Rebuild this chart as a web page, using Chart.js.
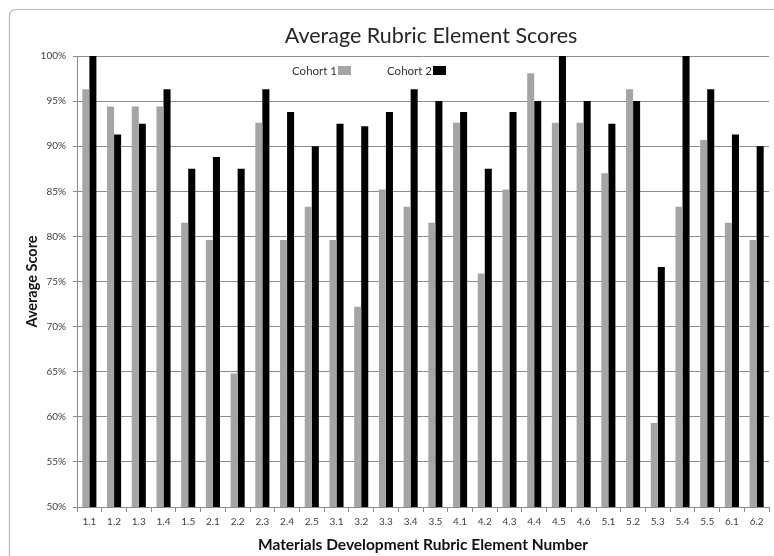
<!DOCTYPE html>
<html>
<head>
<meta charset="utf-8">
<title>Average Rubric Element Scores</title>
<script src="https://cdn.jsdelivr.net/npm/chart.js@4/dist/chart.umd.min.js"></script>
<style>
  html, body { margin: 0; padding: 0; background: #ffffff; }
  canvas { display: block; }
</style>
</head>
<body>
<canvas id="chart" width="774" height="556"></canvas>
<script>
// Rubric element numbers along the x axis
const categories = ['1.1', '1.2', '1.3', '1.4', '1.5', '2.1', '2.2', '2.3', '2.4', '2.5',
  '3.1', '3.2', '3.3', '3.4', '3.5', '4.1', '4.2', '4.3', '4.4', '4.5', '4.6',
  '5.1', '5.2', '5.3', '5.4', '5.5', '6.1', '6.2'];

// Average score (%) per element for each cohort
const cohort1 = [96.3, 94.4, 94.4, 94.4, 81.5, 79.6, 64.8, 92.6, 79.6, 83.3,
  79.6, 72.2, 85.2, 83.3, 81.5, 92.6, 75.9, 85.2, 98.1, 92.6, 92.6,
  87.0, 96.3, 59.3, 83.3, 90.7, 81.5, 79.6];
const cohort2 = [100, 91.3, 92.5, 96.3, 87.5, 88.8, 87.5, 96.3, 93.8, 90.0,
  92.5, 92.2, 93.8, 96.3, 95.0, 93.8, 87.5, 93.8, 95.0, 100, 95.0,
  92.5, 95.0, 76.6, 100, 96.3, 91.3, 90.0];

const seriesNames = ['Cohort 1', 'Cohort 2'];
const chartTitle = 'Average Rubric Element Scores';

const GRAY = '#a5a5a5';
const BLACK = '#000000';
const GRID = '#8c8c8c';
const FONT = 'Lato, "Open Sans", sans-serif';

// Rounded frame around the whole chart
const framePlugin = {
  id: 'frame',
  beforeDraw(chart) {
    const ctx = chart.ctx;
    ctx.save();
    ctx.strokeStyle = '#b8b8b8';
    ctx.lineWidth = 1.2;
    ctx.beginPath();
    ctx.roundRect(9.5, 9.5, 800, 600, 6);
    ctx.stroke();
    ctx.restore();
  }
};

// Chart title and the text-then-swatch legend inside the plot
const headerPlugin = {
  id: 'header',
  afterDraw(chart) {
    const ctx = chart.ctx;
    ctx.save();
    ctx.fillStyle = '#262626';
    ctx.font = '21.5px ' + FONT;
    ctx.textAlign = 'center';
    ctx.textBaseline = 'alphabetic';
    ctx.fillText(chartTitle, 431, 43);

    ctx.font = '11.5px ' + FONT;
    ctx.textAlign = 'right';
    ctx.textBaseline = 'middle';
    const items = [
      { x: 338, color: chart.data.datasets[0].backgroundColor, text: chart.data.datasets[0].label },
      { x: 433, color: chart.data.datasets[1].backgroundColor, text: chart.data.datasets[1].label }
    ];
    items.forEach(it => {
      ctx.fillStyle = '#333333';
      ctx.fillText(it.text, it.x - 1, 71);
      ctx.fillStyle = it.color;
      ctx.fillRect(it.x, 66, 13, 9);
    });
    ctx.restore();
  }
};

new Chart(document.getElementById('chart'), {
  type: 'bar',
  data: {
    labels: categories,
    datasets: [
      { label: seriesNames[0], data: cohort1, backgroundColor: GRAY,
        categoryPercentage: 0.57, barPercentage: 1.0, borderWidth: 0 },
      { label: seriesNames[1], data: cohort2, backgroundColor: BLACK,
        categoryPercentage: 0.57, barPercentage: 1.0, borderWidth: 0 }
    ]
  },
  options: {
    responsive: false,
    animation: false,
    devicePixelRatio: 1,
    layout: { padding: { left: 0, top: 56, right: 5, bottom: 0 } },
    plugins: {
      legend: { display: false },
      title: { display: false },
      tooltip: { enabled: false }
    },
    scales: {
      x: {
        afterFit(scale) { scale.height = 49; },
        grid: {
          display: true,
          drawOnChartArea: false,
          offset: true,
          tickLength: 5,
          color: GRID
        },
        border: { color: GRID },
        ticks: {
          color: '#404040',
          font: { family: FONT, size: 10 },
          padding: 4,
          maxRotation: 0,
          autoSkip: false
        },
        title: {
          display: true,
          text: 'Materials Development Rubric Element Number',
          color: '#111111',
          font: { family: FONT, size: 15.5, weight: 'bold' },
          padding: { top: 0, bottom: 2 }
        }
      },
      y: {
        min: 50,
        max: 100,
        afterFit(scale) { scale.width = 77; },
        grid: { color: GRID, tickLength: 4 },
        border: { color: GRID },
        ticks: {
          stepSize: 5,
          color: '#404040',
          font: { family: FONT, size: 10 },
          padding: 7,
          callback: v => v + '%'
        },
        title: {
          display: true,
          text: 'Average Score',
          color: '#111111',
          font: { family: FONT, size: 14.5, weight: 'bold' },
          padding: { top: 24, bottom: 0 }
        }
      }
    }
  },
  plugins: [framePlugin, headerPlugin]
});
</script>
</body>
</html>
